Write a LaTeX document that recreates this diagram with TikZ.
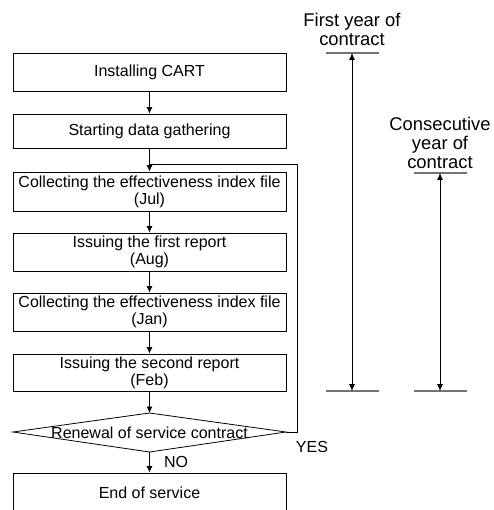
\documentclass[tikz,border=0pt]{standalone}
\usepackage{fontspec}
\setmainfont{Liberation Sans}
\usetikzlibrary{arrows.meta}
\newcommand\boxfont{\fontsize{16}{17}\selectfont}
\newcommand\sidefont{\fontsize{18.4}{19}\selectfont}
\begin{document}
\begin{tikzpicture}[x=1pt,y=-1pt,
  box/.style={draw=black,line width=0.8pt,minimum width=273pt,inner sep=0pt,align=center,font=\boxfont},
  lbl/.style={inner sep=0pt,align=center,font=\boxfont},
  side/.style={inner sep=0pt,align=center,font=\sidefont},
  arr/.style={line width=0.8pt,-{Latex[length=6.5pt,width=6pt]}},
  dbl/.style={line width=0.8pt,{Latex[length=7pt,width=6pt]}-{Latex[length=7pt,width=6pt]}},
  bar/.style={draw=black!55,line width=1.4pt},
  conn/.style={line width=0.8pt}]
\useasboundingbox (0,0) rectangle (493,510);
\clip (0,0) rectangle (493,510);
% flow boxes
\node[box,minimum height=38pt] (b1) at (149.5,72) {Installing CART};
\node[box,minimum height=34pt] (b2) at (149.5,131) {Starting data gathering};
\node[box,minimum height=39pt] (b3) at (149.5,191.5) {Collecting the effectiveness index file\\(Jul)};
\node[box,minimum height=38pt] (b4) at (149.5,252) {Issuing the first report\\(Aug)};
\node[box,minimum height=38pt] (b5) at (149.5,312) {Collecting the effectiveness index file\\(Jan)};
\node[box,minimum height=37pt] (b6) at (149.5,372.5) {Issuing the second report\\(Feb)};
% decision diamond
\coordinate (dt) at (149.5,413);
\coordinate (db) at (149.5,452);
\coordinate (dl) at (13,432);
\coordinate (dr) at (286,432);
\draw[conn] (dl) -- (dt) -- (dr) -- (db) -- cycle;
\node[lbl] (dtext) at (149.5,433) {Renewal of service contract};
\node[box,minimum height=40pt] (b7) at (149.5,493) {End of service};
% connectors
\draw[arr] (b1.south) -- (b2.north);
\draw[arr] (b2.south) -- (b3.north);
\draw[arr] (b3.south) -- (b4.north);
\draw[arr] (b4.south) -- (b5.north);
\draw[arr] (b5.south) -- (b6.north);
\draw[arr] (b6.south) -- (dt);
\draw[arr] (db) -- (b7.north);
\coordinate (lp) at (297,164);
\draw[conn] (dr) -| (lp) -- (b3.north |- lp);
\node[lbl] (yes) at (312,447) {YES};
\node[lbl] (no) at (176,462) {NO};
% right side
\node[side] (fy) at (352,29.5) {First year of\\contract};
\node[side] (cy) at (440,143) {Consecutive\\year of\\contract};
\coordinate (a1t) at (352,53);
\coordinate (a1b) at (352,391);
\coordinate (a2t) at (440,173);
\coordinate (a2b) at (440,391);
\draw[bar] ([xshift=-26.5pt]a1t) -- ([xshift=26.5pt]a1t);
\draw[bar] ([xshift=-26.5pt]a1b) -- ([xshift=26.5pt]a1b);
\draw[bar] ([xshift=-26.5pt]a2t) -- ([xshift=26.5pt]a2t);
\draw[bar] ([xshift=-26.5pt]a2b) -- ([xshift=26.5pt]a2b);
\draw[dbl] (a1b) -- (a1t);
\draw[dbl] (a2b) -- (a2t);
\end{tikzpicture}
\end{document}
